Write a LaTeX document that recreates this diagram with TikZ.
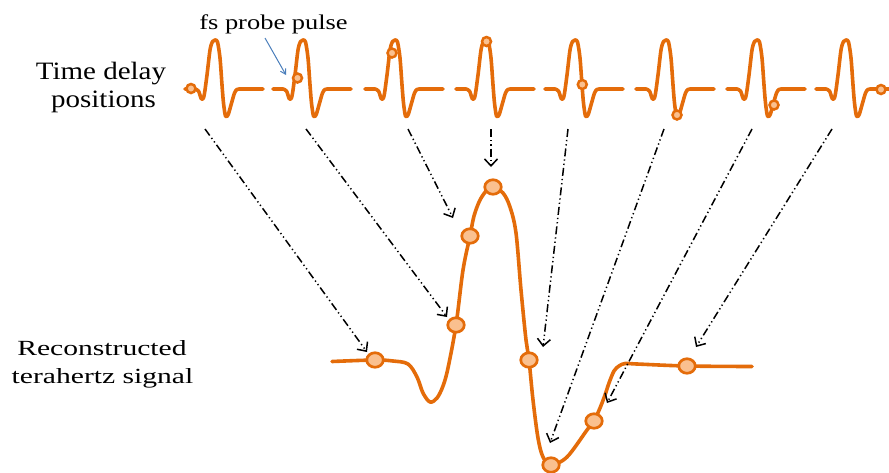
\documentclass[tikz,border=0pt]{standalone}
\usepackage{fontspec}
\setmainfont{Liberation Serif}
\usetikzlibrary{arrows.meta,shapes.geometric}
\definecolor{pulseorange}{RGB}{228,108,10}
\definecolor{dotfill}{RGB}{250,192,143}
\definecolor{probeblue}{RGB}{74,126,187}
\tikzset{
  wave/.style={draw=pulseorange, line width=3.6pt, line cap=round, line join=round},
  smalldot/.style={circle, draw=pulseorange, fill=dotfill, line width=2.5pt, minimum size=9pt, inner sep=0pt},
  bigdot/.style={ellipse, draw=pulseorange, fill=dotfill, line width=2.7pt, minimum width=16.5pt, minimum height=14.5pt, inner sep=0pt},
  delayarrow/.style={draw=black, line width=1.5pt, dash pattern=on 8pt off 3pt on 1.3pt off 3pt on 1.3pt off 3pt, -{Straight Barb[length=7pt,width=13pt,line width=1.5pt]}},
  probearrow/.style={draw=probeblue, line width=1pt, -{Straight Barb[length=5pt,width=6pt]}},
  lblA/.style={anchor=base, inner sep=0pt, font=\fontsize{25}{28}\selectfont},
  lblB/.style={anchor=base, inner sep=0pt, font=\fontsize{21.6}{28}\selectfont},
  lblC/.style={anchor=base, inner sep=0pt, font=\fontsize{21}{25}\selectfont},
}
\begin{document}
\begin{tikzpicture}[x=1pt,y=-1pt]
\useasboundingbox (0,0) rectangle (889,472);

% texts
\node[lblA] (t1) at (101,79) {\scalebox{1.16}[1]{Time delay}};
\node[lblA] (t2) at (103.5,107) {\scalebox{1.16}[1]{positions}};
\node[lblB] (t3) at (102,355) {\scalebox{1.37}[1]{Reconstructed}};
\node[lblB] (t4) at (102.5,383) {\scalebox{1.37}[1]{terahertz signal}};
\node[lblC] (t5) at (273.5,29) {\scalebox{1.26}[1]{fs probe pulse}};

% probe pulses
\foreach \p in {215,303,395,486,575,666,757,846}{
  \begin{scope}[shift={(\p,0)}]
    \draw[wave] (-30,89) -- plot[smooth, tension=0.5] coordinates {(-20,89) (-16.5,91) (-13.5,99) (-11,96) (-8,75) (-5,50) (-2.5,41.5) (0,40) (2.5,42) (5,58) (7,85) (8.5,103) (10.5,116) (13,115) (16,105) (19.5,93) (22,89.5) (25,89)} -- (48,89);
  \end{scope}
}
\node[smalldot] (d1) at (191,88.5) {};
\node[smalldot] (d2) at (297.5,78) {};
\node[smalldot] (d3) at (392,53) {};
\node[smalldot] (d4) at (486.5,41.5) {};
\node[smalldot] (d5) at (582.3,84.5) {};
\node[smalldot] (d6) at (677,115) {};
\node[smalldot] (d7) at (774,105) {};
\node[smalldot] (d8) at (881,89.5) {};

% probe label arrow
\coordinate (pa) at (265,38);
\coordinate (pb) at (286,75);
\draw[probearrow] (pa) -- (pb);

% reconstructed signal
\draw[wave] plot[smooth, tension=0.55] coordinates {
 (332,361.5) (375,360) (393,361) (408,364) (417,377) (423,393) (430,402) (437,398) (443,386) (448,368) (456,325)
 (463,270) (470,236) (474,216) (480,200) (487,190) (493,187) (503,193) (510,207) (516,233) (521,290) (526,340) (529,360)
 (533,400) (538,438) (543,457) (551,465) (567,457) (587,430) (594,421) (600,408) (605,395) (609,383) (614,371) (619,366) (625,363.5) (637,364)
 (687,366) (752,366.5)};

\node[bigdot] (r1) at (375,360) {};
\node[bigdot] (r2) at (456,325) {};
\node[bigdot] (r3) at (470,236) {};
\node[bigdot] (r4) at (493,187) {};
\node[bigdot] (r5) at (529,360) {};
\node[bigdot] (r6) at (551,465) {};
\node[bigdot] (r7) at (594,421) {};
\node[bigdot] (r8) at (687,366) {};

% delay arrows
\coordinate (s1) at (205,129); \coordinate (e1) at (367,352);
\coordinate (s2) at (306,129); \coordinate (e2) at (447,317);
\coordinate (s3) at (408,129); \coordinate (e3) at (453,218);
\coordinate (s4) at (491,129); \coordinate (e4) at (491,167);
\coordinate (s5) at (568,129); \coordinate (e5) at (543,347);
\coordinate (s6) at (664,129); \coordinate (e6) at (550,443);
\coordinate (s7) at (752,129); \coordinate (e7) at (607,403);
\coordinate (s8) at (832,129); \coordinate (e8) at (696,347);
\foreach \i in {1,...,8}{\draw[delayarrow] (s\i) -- (e\i);}
\end{tikzpicture}
\end{document}
